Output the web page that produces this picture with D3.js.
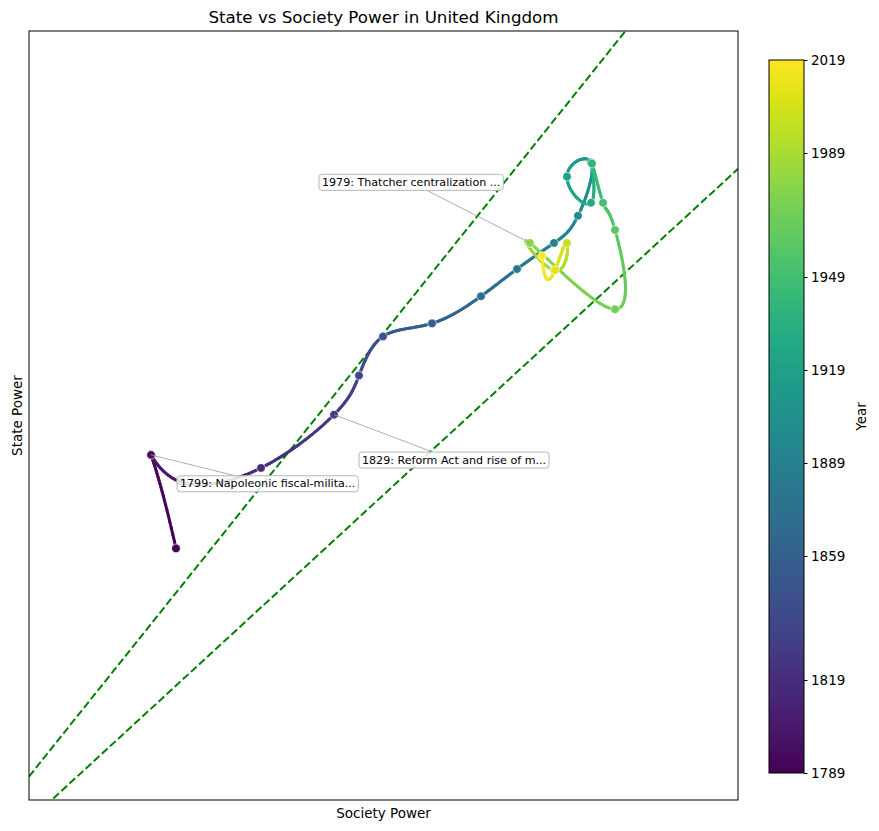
<!DOCTYPE html>
<html>
<head>
<meta charset="utf-8">
<script src="https://cdn.jsdelivr.net/npm/d3@7"></script>
<style>
  body { margin: 0; background: #fff; }
  text { font-family: "DejaVu Sans", sans-serif; fill: #000; }
</style>
</head>
<body>
<div id="chart"></div>
<script>
// data
const years = [1789, 1799, 1809, 1819, 1829, 1839, 1849, 1859, 1869, 1879, 1889, 1899,
               1909, 1919, 1929, 1939, 1949, 1959, 1969, 1979, 1989, 1999, 2009, 2019];
const societyPower = [28.1, 25.6, 28.6, 36.6, 43.9, 46.4, 48.8, 53.7, 58.6, 62.2, 65.9, 68.3,
                      69.6, 67.2, 69.6, 69.7, 70.8, 72.0, 72.0, 63.5, 65.9, 67.2, 66.0, 64.7];
const statePower = [36.4, 45.0, 42.5, 43.8, 48.7, 52.3, 55.9, 57.1, 59.6, 62.1, 64.5, 67.0,
                    71.9, 70.6, 68.2, 71.8, 68.2, 65.7, 58.4, 64.5, 62.0, 64.5, 62.0, 63.3];
const colorTicks = [1789, 1819, 1859, 1889, 1919, 1949, 1989, 2019];
const noteYears = [1799, 1829, 1979];
const noteTexts = ["1799: Napoleonic fiscal-milita...",
                   "1829: Reform Act and rise of m...",
                   "1979: Thatcher centralization ..."];
const boundRatios = [1.15, 0.846];   // dashed reference lines: state = ratio * society

// layout
const W = 879, H = 831;
const plot = {left: 29, right: 738, top: 31, bottom: 800};
const cbar = {left: 769, right: 804, top: 60, bottom: 773};
const noteOffsets = [[29, 28.5], [28, 45], [-208, -61]];  // text anchor offsets in px

const svg = d3.select("#chart").append("svg")
    .attr("width", W)
    .attr("height", H);

const x = d3.scaleLinear().domain([13.4, 84.3]).range([plot.left, plot.right]);
const y = d3.scaleLinear().domain([13.25, 84.0]).range([plot.bottom, plot.top]);
const color = d3.scaleSequential(d3.interpolateViridis).domain([1789, 2019]);

svg.append("clipPath").attr("id", "plotclip")
  .append("rect")
    .attr("x", plot.left).attr("y", plot.top)
    .attr("width", plot.right - plot.left).attr("height", plot.bottom - plot.top);

const g = svg.append("g").attr("clip-path", "url(#plotclip)");

// dashed boundary lines
const xd = x.domain();
g.selectAll(".bound")
  .data(boundRatios)
  .enter()
  .append("line")
    .attr("class", "bound")
    .attr("x1", x(xd[0])).attr("y1", r => y(r * xd[0]))
    .attr("x2", x(xd[1])).attr("y2", r => y(r * xd[1]))
    .style("stroke", "green")
    .style("stroke-width", 2)
    .style("stroke-dasharray", "7.7,3.3");

// cubic spline with not-a-knot ends (parameter = index, like scipy's default)
function splineCoefs(v) {
  const n = v.length;
  const A = [];
  for (let i = 0; i < n; i++) A.push(new Array(n + 1).fill(0));
  A[0][0] = 1; A[0][1] = -2; A[0][2] = 1;
  for (let i = 1; i < n - 1; i++) {
    A[i][i - 1] = 1; A[i][i] = 4; A[i][i + 1] = 1;
    A[i][n] = 6 * (v[i + 1] - 2 * v[i] + v[i - 1]);
  }
  A[n - 1][n - 3] = 1; A[n - 1][n - 2] = -2; A[n - 1][n - 1] = 1;
  // gaussian elimination with partial pivoting
  for (let c = 0; c < n; c++) {
    let p = c;
    for (let r = c + 1; r < n; r++) if (Math.abs(A[r][c]) > Math.abs(A[p][c])) p = r;
    [A[c], A[p]] = [A[p], A[c]];
    for (let r = c + 1; r < n; r++) {
      const f = A[r][c] / A[c][c];
      if (f === 0) continue;
      for (let k = c; k <= n; k++) A[r][k] -= f * A[c][k];
    }
  }
  const M = new Array(n).fill(0);
  for (let r = n - 1; r >= 0; r--) {
    let s = A[r][n];
    for (let k = r + 1; k < n; k++) s -= A[r][k] * M[k];
    M[r] = s / A[r][r];
  }
  return M;
}
function splineAt(v, M, t) {
  const i = Math.min(Math.floor(t), v.length - 2);
  const s = t - i;
  return (1 - s) * v[i] + s * v[i + 1]
    + ((Math.pow(1 - s, 3) - (1 - s)) * M[i] + (Math.pow(s, 3) - s) * M[i + 1]) / 6;
}

const Mx = splineCoefs(societyPower);
const My = splineCoefs(statePower);
const steps = 30;
const segs = [];
for (let i = 0; i < years.length - 1; i++) {
  for (let k = 0; k < steps; k++) {
    const t0 = i + k / steps, t1 = i + (k + 1) / steps;
    segs.push({
      x1: splineAt(societyPower, Mx, t0), y1: splineAt(statePower, My, t0),
      x2: splineAt(societyPower, Mx, t1), y2: splineAt(statePower, My, t1),
      year: years[i] + (years[i + 1] - years[i]) * (k + 0.5) / steps
    });
  }
}

g.selectAll(".seg")
  .data(segs)
  .enter()
  .append("line")
    .attr("x1", d => x(d.x1)).attr("y1", d => y(d.y1))
    .attr("x2", d => x(d.x2)).attr("y2", d => y(d.y2))
    .style("stroke", d => color(d.year))
    .style("stroke-width", 3)
    .style("stroke-linecap", "round");

// points
const pts = years.map((yr, i) => ({year: yr, sx: societyPower[i], sy: statePower[i]}));
g.selectAll(".pt")
  .data(pts)
  .enter()
  .append("circle")
    .attr("cx", d => x(d.sx))
    .attr("cy", d => y(d.sy))
    .attr("r", 4.3)
    .style("fill", d => color(d.year))
    .style("stroke", "#fff")
    .style("stroke-width", 0.6);

// annotations
noteYears.forEach((yr, i) => {
  const p = pts[years.indexOf(yr)];
  const px = x(p.sx), py = y(p.sy);
  const tx = px + noteOffsets[i][0], ty = py + noteOffsets[i][1];
  const grp = svg.append("g");
  const line = grp.append("line");
  const box = grp.append("rect");
  const txt = grp.append("text")
    .attr("x", tx).attr("y", ty)
    .attr("dy", "0.35em")
    .style("font-size", "11.1px")
    .text(noteTexts[i]);
  const bb = txt.node().getBBox();
  const pad = 3;
  const bx0 = bb.x - pad, by0 = bb.y - pad + 1.5, bx1 = bb.x + bb.width + pad, by1 = bb.y + bb.height + pad - 1.5;
  box.attr("x", bx0).attr("y", by0)
    .attr("width", bx1 - bx0).attr("height", by1 - by0)
    .attr("rx", 3)
    .style("fill", "#fff").style("fill-opacity", 0.85)
    .style("stroke", "#b5b5b5").style("stroke-width", 1);
  // arrow towards box centre, stopped at box edge
  const cx = (bx0 + bx1) / 2, cy = (by0 + by1) / 2;
  const dx = cx - px, dy = cy - py;
  const tX = dx !== 0 ? ((dx > 0 ? bx0 : bx1) - px) / dx : 0;
  const tY = dy !== 0 ? ((dy > 0 ? by0 : by1) - py) / dy : 0;
  const tE = Math.max(0, Math.min(1, Math.max(tX, tY)));
  line.attr("x1", px).attr("y1", py)
    .attr("x2", px + dx * tE).attr("y2", py + dy * tE)
    .style("stroke", "#999").style("stroke-width", 0.8);
});

// frame
svg.append("rect")
  .attr("x", plot.left).attr("y", plot.top)
  .attr("width", plot.right - plot.left).attr("height", plot.bottom - plot.top)
  .style("fill", "none").style("stroke", "#000").style("stroke-width", 1);

// titles
svg.append("text")
  .attr("x", (plot.left + plot.right) / 2).attr("y", 23)
  .attr("text-anchor", "middle")
  .style("font-size", "16.7px")
  .text("State vs Society Power in United Kingdom");

svg.append("text")
  .attr("x", (plot.left + plot.right) / 2).attr("y", 818)
  .attr("text-anchor", "middle")
  .style("font-size", "13.5px")
  .text("Society Power");

svg.append("text")
  .attr("transform", `translate(22, ${(plot.top + plot.bottom) / 2}) rotate(-90)`)
  .attr("text-anchor", "middle")
  .style("font-size", "13.5px")
  .text("State Power");

// colorbar
const cScale = d3.scaleLinear().domain([1789, 2019]).range([cbar.bottom, cbar.top]);
const grad = svg.append("defs").append("linearGradient")
  .attr("id", "viridis")
  .attr("x1", 0).attr("y1", 1).attr("x2", 0).attr("y2", 0);
grad.selectAll("stop")
  .data(d3.range(0, 1.0001, 0.02))
  .enter()
  .append("stop")
    .attr("offset", d => d)
    .attr("stop-color", d => d3.interpolateViridis(d));

svg.append("rect")
  .attr("x", cbar.left).attr("y", cbar.top)
  .attr("width", cbar.right - cbar.left).attr("height", cbar.bottom - cbar.top)
  .style("fill", "url(#viridis)")
  .style("stroke", "#000").style("stroke-width", 1);

const cAxis = svg.append("g")
  .attr("transform", `translate(${cbar.right},0)`)
  .call(d3.axisRight(cScale).tickValues(colorTicks).tickFormat(d3.format("d")).tickSize(3.5).tickPadding(3.5));
cAxis.select(".domain").remove();
cAxis.selectAll("text")
  .style("font-family", "DejaVu Sans, sans-serif")
  .style("font-size", "13.5px");

svg.append("text")
  .attr("transform", `translate(866, ${(cbar.top + cbar.bottom) / 2}) rotate(-90)`)
  .attr("text-anchor", "middle")
  .style("font-size", "13.5px")
  .text("Year");
</script>
</body>
</html>
